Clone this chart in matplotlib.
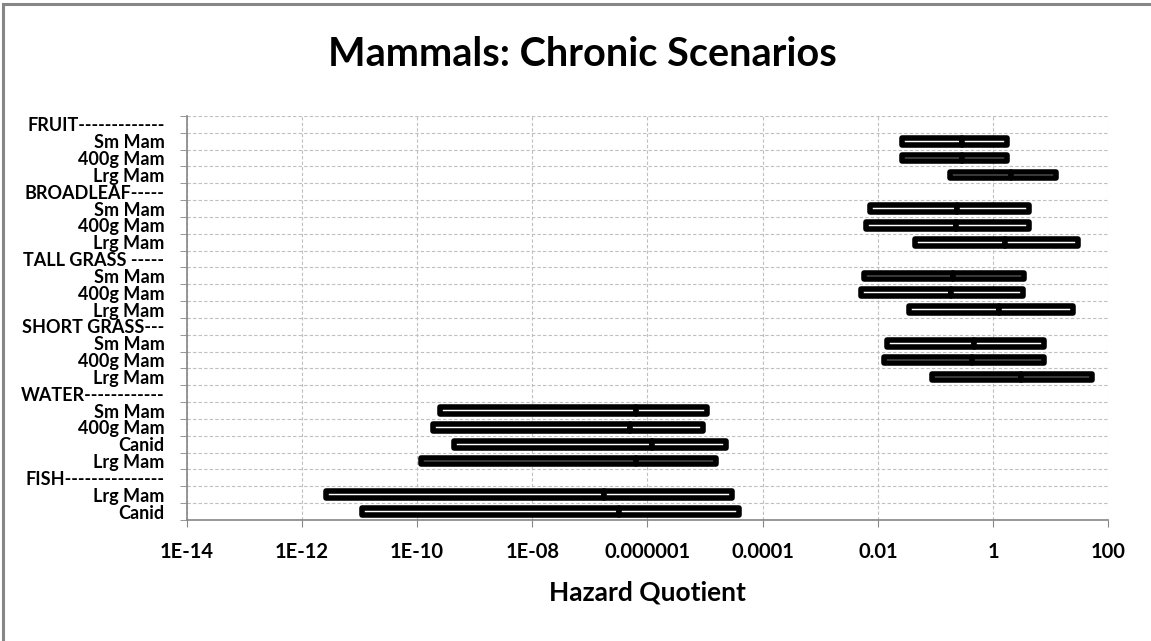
import numpy as np
import matplotlib.pyplot as plt
from matplotlib.patches import Rectangle

plt.rcParams['font.family'] = ['Lato', 'DejaVu Sans']

# categories, top to bottom (header rows have no bar)
labels = ['FRUIT-------------', 'Sm Mam', '400g Mam', 'Lrg Mam',
          'BROADLEAF-----', 'Sm Mam', '400g Mam', 'Lrg Mam',
          'TALL GRASS -----', 'Sm Mam', '400g Mam', 'Lrg Mam',
          'SHORT GRASS---', 'Sm Mam', '400g Mam', 'Lrg Mam',
          'WATER------------', 'Sm Mam', '400g Mam', 'Canid', 'Lrg Mam',
          'FISH---------------', 'Lrg Mam', 'Canid']

nan = np.nan
hq_low = [nan, 0.0259, 0.0259, 0.182,
          nan, 0.0072, 0.00634, 0.0446,
          nan, 0.00574, 0.00502, 0.0347,
          nan, 0.0144, 0.0126, 0.0879,
          nan, 2.53e-10, 1.89e-10, 4.38e-10, 1.16e-10,
          nan, 2.65e-12, 1.1e-11]
hq_mid = [nan, 0.29, 0.29, 2.02,
          nan, 0.239, 0.227, 1.61,
          nan, 0.199, 0.184, 1.28,
          nan, 0.466, 0.436, 3.05,
          nan, 6.24e-7, 4.97e-7, 1.18e-6, 6.3e-7,
          nan, 1.78e-7, 3.24e-7]
hq_high = [nan, 1.74, 1.74, 12.4,
           nan, 4.25, 4.15, 29.8,
           nan, 3.44, 3.37, 24.1,
           nan, 7.5, 7.5, 52.7,
           nan, 1.07e-5, 9.08e-6, 2.31e-5, 1.55e-5,
           nan, 2.99e-5, 3.85e-5]

xticks = [1e-14, 1e-12, 1e-10, 1e-8, 1e-6, 1e-4, 1e-2, 1, 100]
xticklabels = ['1E-14', '1E-12', '1E-10', '1E-08', '0.000001', '0.0001',
               '0.01', '1', '100']

fig = plt.figure(figsize=(11.51, 6.41), dpi=100)
ax = fig.add_axes([0.1622, 0.1888, 0.8007, 0.6303])

y = np.arange(len(labels))
low = np.array(hq_low)
mid = np.array(hq_mid)
high = np.array(hq_high)
has = ~np.isnan(low)

for lo, hi in [(low, mid), (mid, high)]:
    bars = ax.barh(y[has], hi[has] - lo[has], left=lo[has], height=0.4,
                   color='white', edgecolor='black', linewidth=4.0, zorder=3)
    for b in bars:
        b.set_joinstyle('round')

ax.set_xscale('log')
ax.set_xlim(1e-14, 100)
ax.set_ylim(len(labels) - 0.5, -0.5)

ax.set_xticks(xticks)
ax.set_xticklabels(xticklabels, fontsize=14.5, fontweight='bold')
ax.xaxis.set_minor_locator(plt.NullLocator())
ax.tick_params(axis='x', direction='out', length=5, color='#868686', pad=11)

ax.set_yticks(y)
ax.set_yticklabels(labels, fontsize=13, fontweight='bold')
ax.set_yticks(np.arange(len(labels) + 1) - 0.5, minor=True)
ax.tick_params(axis='y', which='major', length=0, pad=16)
ax.tick_params(axis='y', which='minor', direction='out', length=5, color='#868686')

ax.grid(axis='x', which='major', color='#BFBFBF', linestyle=(0, (3, 2)), linewidth=0.8)
ax.grid(axis='y', which='minor', color='#BFBFBF', linestyle=(0, (3, 2)), linewidth=0.8)
ax.grid(axis='y', which='major', visible=False)
ax.set_axisbelow(True)

for s in ['top', 'right']:
    ax.spines[s].set_visible(False)
for s in ['left', 'bottom']:
    ax.spines[s].set_color('#868686')
    ax.spines[s].set_linewidth(1.2)

ax.set_xlabel('Hazard Quotient', fontsize=19, fontweight='bold')
ax.xaxis.set_label_coords(0.5, -0.15)

fig.text(582 / 1151, 1 - 55 / 641, 'Mammals: Chronic Scenarios',
         fontsize=28.5, fontweight='bold', ha='center', va='center')

# chart border (only top and left edges fall inside the picture)
fig.patches.append(Rectangle((3 / 1151, -0.1), 1.2, 1.1 - 4 / 641,
                             transform=fig.transFigure, fill=False,
                             edgecolor='#868686', linewidth=2.2))

plt.savefig('out.png', dpi=100)
plt.close()
